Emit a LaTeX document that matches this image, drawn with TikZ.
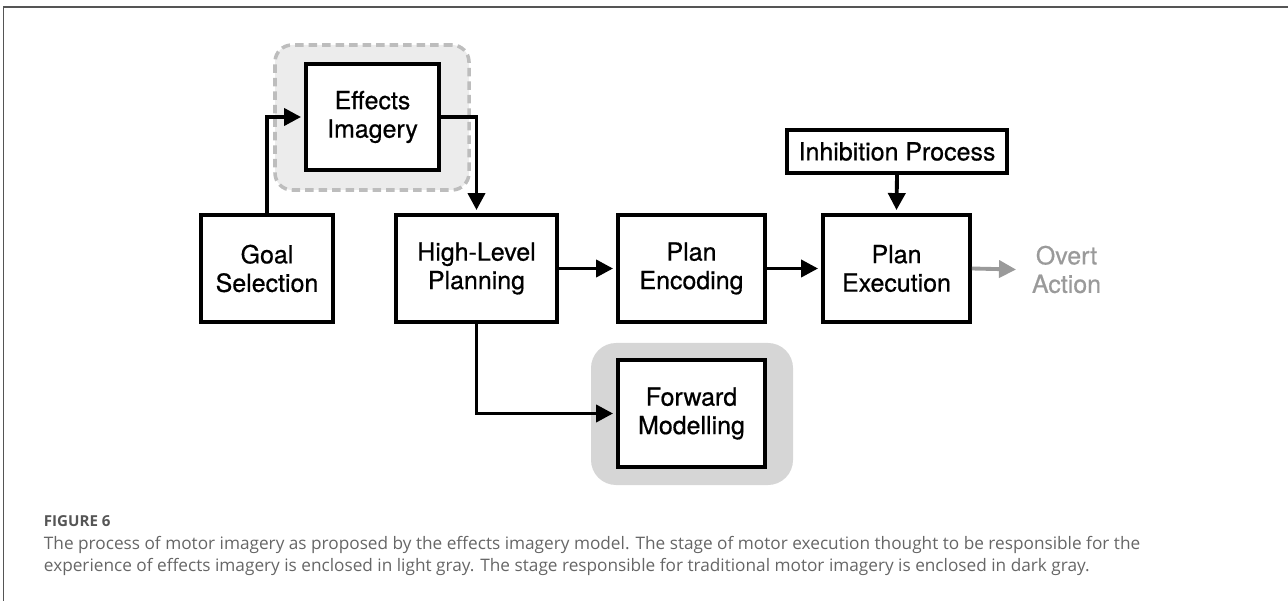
\documentclass[tikz,border=0pt]{standalone}
\usepackage{fontspec}
\setmainfont{TeX Gyre Heros}
\newfontfamily\capfont{Open Sans}
\usetikzlibrary{arrows.meta,positioning}
\definecolor{zonelight}{HTML}{ECECEC}
\definecolor{zonedash}{HTML}{BDBDBD}
\definecolor{zonedark}{HTML}{D6D6D6}
\definecolor{overtgray}{HTML}{9A9A9A}
\definecolor{captiongray}{HTML}{666666}
\definecolor{framegray}{HTML}{555555}

\begin{document}
\begin{tikzpicture}[
  >={Triangle[length=0.34cm,width=0.34cm]},
  line width=2.2pt,
  stage/.style={draw=black, fill=white, align=center, minimum height=2.14cm,
    font={\addfontfeature{FakeBold=0.6}\fontsize{14.2}{16.2}\selectfont}, inner sep=2pt},
  lightzone/.style={draw=zonedash, fill=zonelight, dash pattern=on 0.17cm off 0.1cm,
    line width=2pt, rounded corners=0.34cm},
  darkzone/.style={fill=zonedark, rounded corners=0.5cm},
  flow/.style={->, draw=black, line width=2.2pt}
]
  \useasboundingbox (0,0) rectangle (25.76,-12.02);
  \draw[framegray, line width=1.1pt] (0.07,-12.02) |- (25.76,-0.14);

  % shaded zones
  \node[lightzone, minimum width=3.88cm, minimum height=2.9cm] (ezone) at (7.44,-2.35) {};
  \node[darkzone, minimum width=4.04cm, minimum height=2.84cm] (fzone) at (13.84,-8.28) {};

  \node[stage, minimum width=2.64cm] (goal) at (5.34,-5.37) {Goal\\Selection};
  \node[stage, minimum width=2.66cm, minimum height=2.12cm] (effects) at (7.45,-2.34) {Effects\\Imagery};
  \node[stage, minimum width=3.22cm] (hlp) at (9.53,-5.37) {High-Level\\Planning};
  \node[stage, minimum width=2.94cm] (enc) at (13.83,-5.37) {Plan\\Encoding};
  \node[stage, minimum width=2.94cm] (exec) at (17.93,-5.37) {Plan\\Execution};
  \node[stage, minimum width=4.4cm, minimum height=0.86cm] (inhib) at (17.94,-3.03) {Inhibition Process};
  \node[stage, minimum width=2.94cm] (fwd) at (13.83,-8.27) {Forward\\Modelling};
  \node[align=center, text=overtgray, inner sep=0pt,
    font={\addfontfeature{FakeBold=0.6}\fontsize{14.2}{16.2}\selectfont}] (overt) at (21.33,-5.39) {Overt\\Action};

  \draw[flow] (goal.north) |- ([xshift=-0.06cm]effects.west);
  \draw[flow] (effects.east) -| ([yshift=0.06cm]hlp.north);
  \draw[flow] (hlp.east) -- ([xshift=-0.06cm]enc.west);
  \draw[flow] (enc.east) -- ([xshift=-0.06cm]exec.west);
  \draw[flow] (inhib.south) -- ([yshift=0.06cm]exec.north);
  \draw[flow] (hlp.south) |- ([xshift=-0.06cm]fwd.west);
  \draw[flow, draw=overtgray] (exec.east) -- ([xshift=-0.28cm]overt.west);

  % caption
  \node[anchor=west, inner sep=0pt, text=framegray,
    font={\capfont\bfseries\fontsize{8.6}{10}\selectfont}] (fig) at (0.84,-10.42) {FIGURE 6};
  \node[anchor=north west, inner sep=0pt, align=left, text=captiongray,
    font={\capfont\fontsize{9.8}{12.6}\selectfont}] (cap) at (0.84,-10.68)
    {The process of motor imagery as proposed by the effects imagery model. The stage of motor execution thought to be responsible for the\\
     experience of effects imagery is enclosed in light gray. The stage responsible for traditional motor imagery is enclosed in dark gray.};
\end{tikzpicture}
\end{document}
